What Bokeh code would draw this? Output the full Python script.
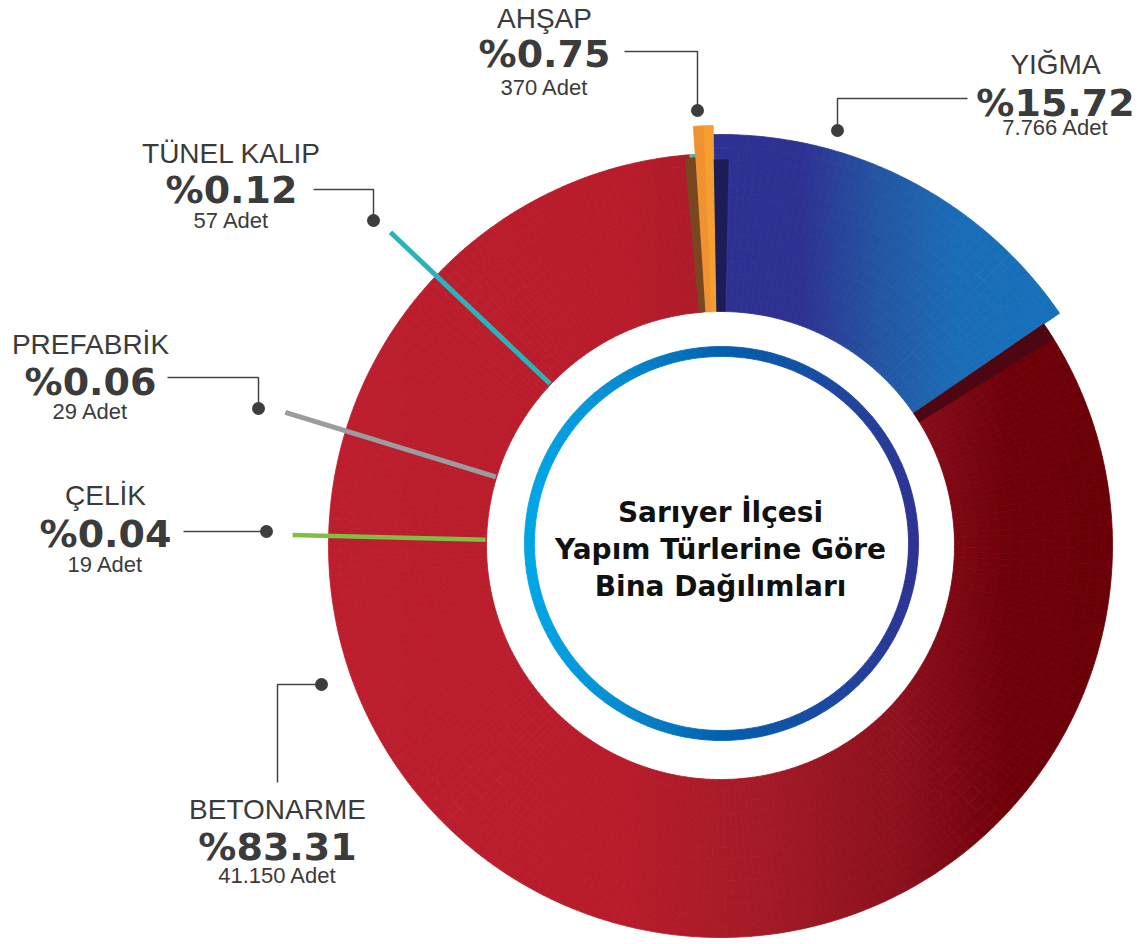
import math
from bokeh.plotting import figure
from bokeh.models import Range1d, ColumnDataSource
from bokeh.core.properties import value
from bokeh.embed import file_html
from bokeh.resources import INLINE

# ---------------- data (clockwise from 12 o'clock) ----------------
categories = ["YIĞMA", "BETONARME", "ÇELİK", "PREFABRİK", "TÜNEL KALIP", "AHŞAP"]
percents = [15.72, 83.31, 0.04, 0.06, 0.12, 0.75]
counts = [7766, 41150, 19, 29, 57, 370]
title_lines = ["Sarıyer İlçesi", "Yapım Türlerine Göre", "Bina Dağılımları"]

# ---------------- styling / layout ----------------
W, H = 1143, 944
def Y(py):            # reference pixel row -> data y
    return H - py

CX, CY = 720, Y(545)
R_IN = 234
START_OFFSET_DEG = 1.0
R_OUT = {"BETONARME": 392, "YIĞMA": 411, "AHŞAP": 420,
         "ÇELİK": 392, "PREFABRİK": 392, "TÜNEL KALIP": 392}
STOPS = {
    "BETONARME": [(330, "#bc1e2d"), (620, "#b81c2b"), (760, "#a51a27"),
                  (900, "#8c101d"), (1010, "#6e0009"), (1112, "#6b0008")],
    "YIĞMA": [(713, "#2e3192"), (800, "#2e3192"), (880, "#2356a3"),
              (960, "#1b6db7"), (1080, "#1472bb")],
    "AHŞAP": [(680, "#e06c28"), (715, "#f8a634")],
    "ÇELİK": [(0, "#7cc143"), (2000, "#7cc143")],
    "PREFABRİK": [(0, "#9b9ca0"), (2000, "#9b9ca0")],
    "TÜNEL KALIP": [(0, "#2bb3bb"), (2000, "#2bb3bb")],
}
RING_STOPS = [(527, "#00a6e6"), (600, "#0892d6"), (720, "#0060ae"),
              (840, "#1e469f"), (917, "#2e3192")]

TEXT = "#3b3b3b"
FONT = value("Liberation Sans")
HEAVY = value("DejaVu Sans")

def hex2rgb(h):
    return tuple(int(h[i:i + 2], 16) for i in (1, 3, 5))

def grad(stops, x):
    if x <= stops[0][0]:
        return stops[0][1]
    for (x0, c0), (x1, c1) in zip(stops, stops[1:]):
        if x <= x1:
            t = (x - x0) / (x1 - x0)
            a, b = hex2rgb(c0), hex2rgb(c1)
            return "#%02x%02x%02x" % tuple(round(a[k] + (b[k] - a[k]) * t) for k in range(3))
    return stops[-1][1]

deg = math.pi / 180
def theta(frac):      # clockwise fraction from top -> bokeh angle
    return math.pi / 2 + START_OFFSET_DEG * deg - 2 * math.pi * frac

p = figure(width=W, height=H, output_backend="svg", toolbar_location=None,
           x_range=Range1d(0, W), y_range=Range1d(0, H),
           min_border=0, background_fill_color="white", border_fill_color="white")
p.axis.visible = False
p.grid.visible = False
p.outline_line_color = None

# ---------------- slices (gradient via sub-wedges) ----------------
wd = dict(x=[], y=[], ri=[], ro=[], sa=[], ea=[], c=[])
def add_wedge(cx, cy, f0, f1, r_in, r_out, stops, n_ang, n_rad, store):
    a0, a1 = theta(f1), theta(f0)
    for i in range(n_ang):
        s = a0 + (a1 - a0) * i / n_ang
        e = a0 + (a1 - a0) * (i + 1) / n_ang
        for j in range(n_rad):
            ri = r_in + (r_out - r_in) * j / n_rad
            ro = r_in + (r_out - r_in) * (j + 1) / n_rad
            xm = cx + (ri + ro) / 2 * math.cos((s + e) / 2)
            store["x"].append(cx); store["y"].append(cy)
            store["ri"].append(ri); store["ro"].append(ro)
            store["sa"].append(s); store["ea"].append(e)
            store["c"].append(grad(stops, xm))

cum = 0.0
slice_span = {}
for cat, pct in zip(categories, percents):
    f0, f1 = cum / 100.0, (cum + pct) / 100.0
    slice_span[cat] = (f0, f1)
    n_ang = max(1, int(round(pct * 3)))
    n_rad = 14 if pct > 5 else 1
    add_wedge(CX, CY, f0, f1, R_IN, R_OUT[cat], STOPS[cat], n_ang, n_rad, wd)
    cum += pct

p.annular_wedge(x="x", y="y", inner_radius="ri", outer_radius="ro",
                start_angle="sa", end_angle="ea", fill_color="c", line_color="c",
                line_width=0.8, source=ColumnDataSource(wd))

# 3D-style shadows along slice edges
yf0, yf1 = slice_span["YIĞMA"]
af0, af1 = slice_span["AHŞAP"]
sh = dict(
    x=[CX, CX, CX], y=[CY, CY, CY],
    ri=[R_IN, R_IN, R_IN], ro=[386, 392, 389],
    sa=[theta(yf0) - 2.2 * deg, theta(yf1) - 2.6 * deg, theta(af0)],
    ea=[theta(yf0), theta(yf1), theta(af0) + 1.6 * deg],
    c=["#1b1c58", "#4e0712", "#7a4620"],
)
p.annular_wedge(x="x", y="y", inner_radius="ri", outer_radius="ro",
                start_angle="sa", end_angle="ea", fill_color="c", line_color=None,
                source=ColumnDataSource(sh))

# inner decorative ring
ring = dict(x=[], y=[], ri=[], ro=[], sa=[], ea=[], c=[])
RCX, RCY = 721, Y(543)
n = 180
for i in range(n):
    s = 2 * math.pi * i / n
    e = 2 * math.pi * (i + 1) / n
    xm = RCX + 192 * math.cos((s + e) / 2)
    ring["x"].append(RCX); ring["y"].append(RCY)
    ring["ri"].append(187); ring["ro"].append(197)
    ring["sa"].append(s); ring["ea"].append(e)
    ring["c"].append(grad(RING_STOPS, xm))
p.annular_wedge(x="x", y="y", inner_radius="ri", outer_radius="ro",
                start_angle="sa", end_angle="ea", fill_color="c", line_color="c",
                line_width=0.8, source=ColumnDataSource(ring))

# ---------------- pointer needles for the tiny categories ----------------
needle = {  # angle (deg, ccw from +x), outer radius, colour, width
    "TÜNEL KALIP": (136.5, 455, "#2bb3bb", 5),
    "PREFABRİK": (163.0, 455, "#9b9ca0", 5),
    "ÇELİK": (178.6, 428, "#7cc143", 4.5),
}
for cat, (ang, ro, col, lw) in needle.items():
    a = ang * deg
    p.segment(x0=[CX + (R_IN + 1) * math.cos(a)], y0=[CY + (R_IN + 1) * math.sin(a)],
              x1=[CX + ro * math.cos(a)], y1=[CY + ro * math.sin(a)],
              line_color=col, line_width=lw)

# ---------------- labels ----------------
label_pos = {  # centre x, name row, pct row, count row (reference pixel rows)
    "AHŞAP": (544, 18, 53, 87),
    "YIĞMA": (1055, 64, 102, 127),
    "TÜNEL KALIP": (231, 153, 189, 220),
    "PREFABRİK": (90, 344, 381, 411),
    "ÇELİK": (105, 495, 533, 564),
    "BETONARME": (277, 809, 846, 875),
}
leaders = {
    "AHŞAP": [(624, 51), (697, 51), (697, 110)],
    "YIĞMA": [(967, 98), (837, 98), (837, 130)],
    "TÜNEL KALIP": [(313, 189), (373, 189), (373, 220)],
    "PREFABRİK": [(167, 377), (258, 377), (258, 408)],
    "ÇELİK": [(183, 531), (266, 531)],
    "BETONARME": [(277, 782), (277, 684), (321, 684)],
}

names, pcts, cnts = [], [], []
for cat, pct, c in zip(categories, percents, counts):
    names.append(cat)
    pcts.append("%" + f"{pct:.2f}")
    cnts.append(f"{c:,}".replace(",", ".") + " Adet")

lx = [label_pos[c][0] for c in categories]
p.text(x=lx, y=[Y(label_pos[c][1]) for c in categories], text=names,
       text_align="center", text_baseline="middle", text_font=FONT,
       text_font_size="28px", text_color=TEXT)
p.text(x=lx, y=[Y(label_pos[c][2]) for c in categories], text=pcts,
       text_align="center", text_baseline="middle", text_font=HEAVY,
       text_font_style="bold", text_font_size="38px", text_color=TEXT)
p.text(x=lx, y=[Y(label_pos[c][3]) for c in categories], text=cnts,
       text_align="center", text_baseline="middle", text_font=FONT,
       text_font_size="22px", text_color=TEXT)

for cat in categories:
    pts = leaders[cat]
    p.line(x=[q[0] for q in pts], y=[Y(q[1]) for q in pts],
           line_color="#444444", line_width=1.5)
    p.scatter(x=[pts[-1][0]], y=[Y(pts[-1][1])], size=13,
              fill_color="#3d3d3d", line_color=None)

# centre title
p.text(x=[720, 720, 720], y=[Y(512), Y(549), Y(586)], text=title_lines,
       text_align="center", text_baseline="middle", text_font=HEAVY,
       text_font_style="bold", text_font_size="28px", text_color="#111111")

open("out.html", "w").write(file_html(p, INLINE))
